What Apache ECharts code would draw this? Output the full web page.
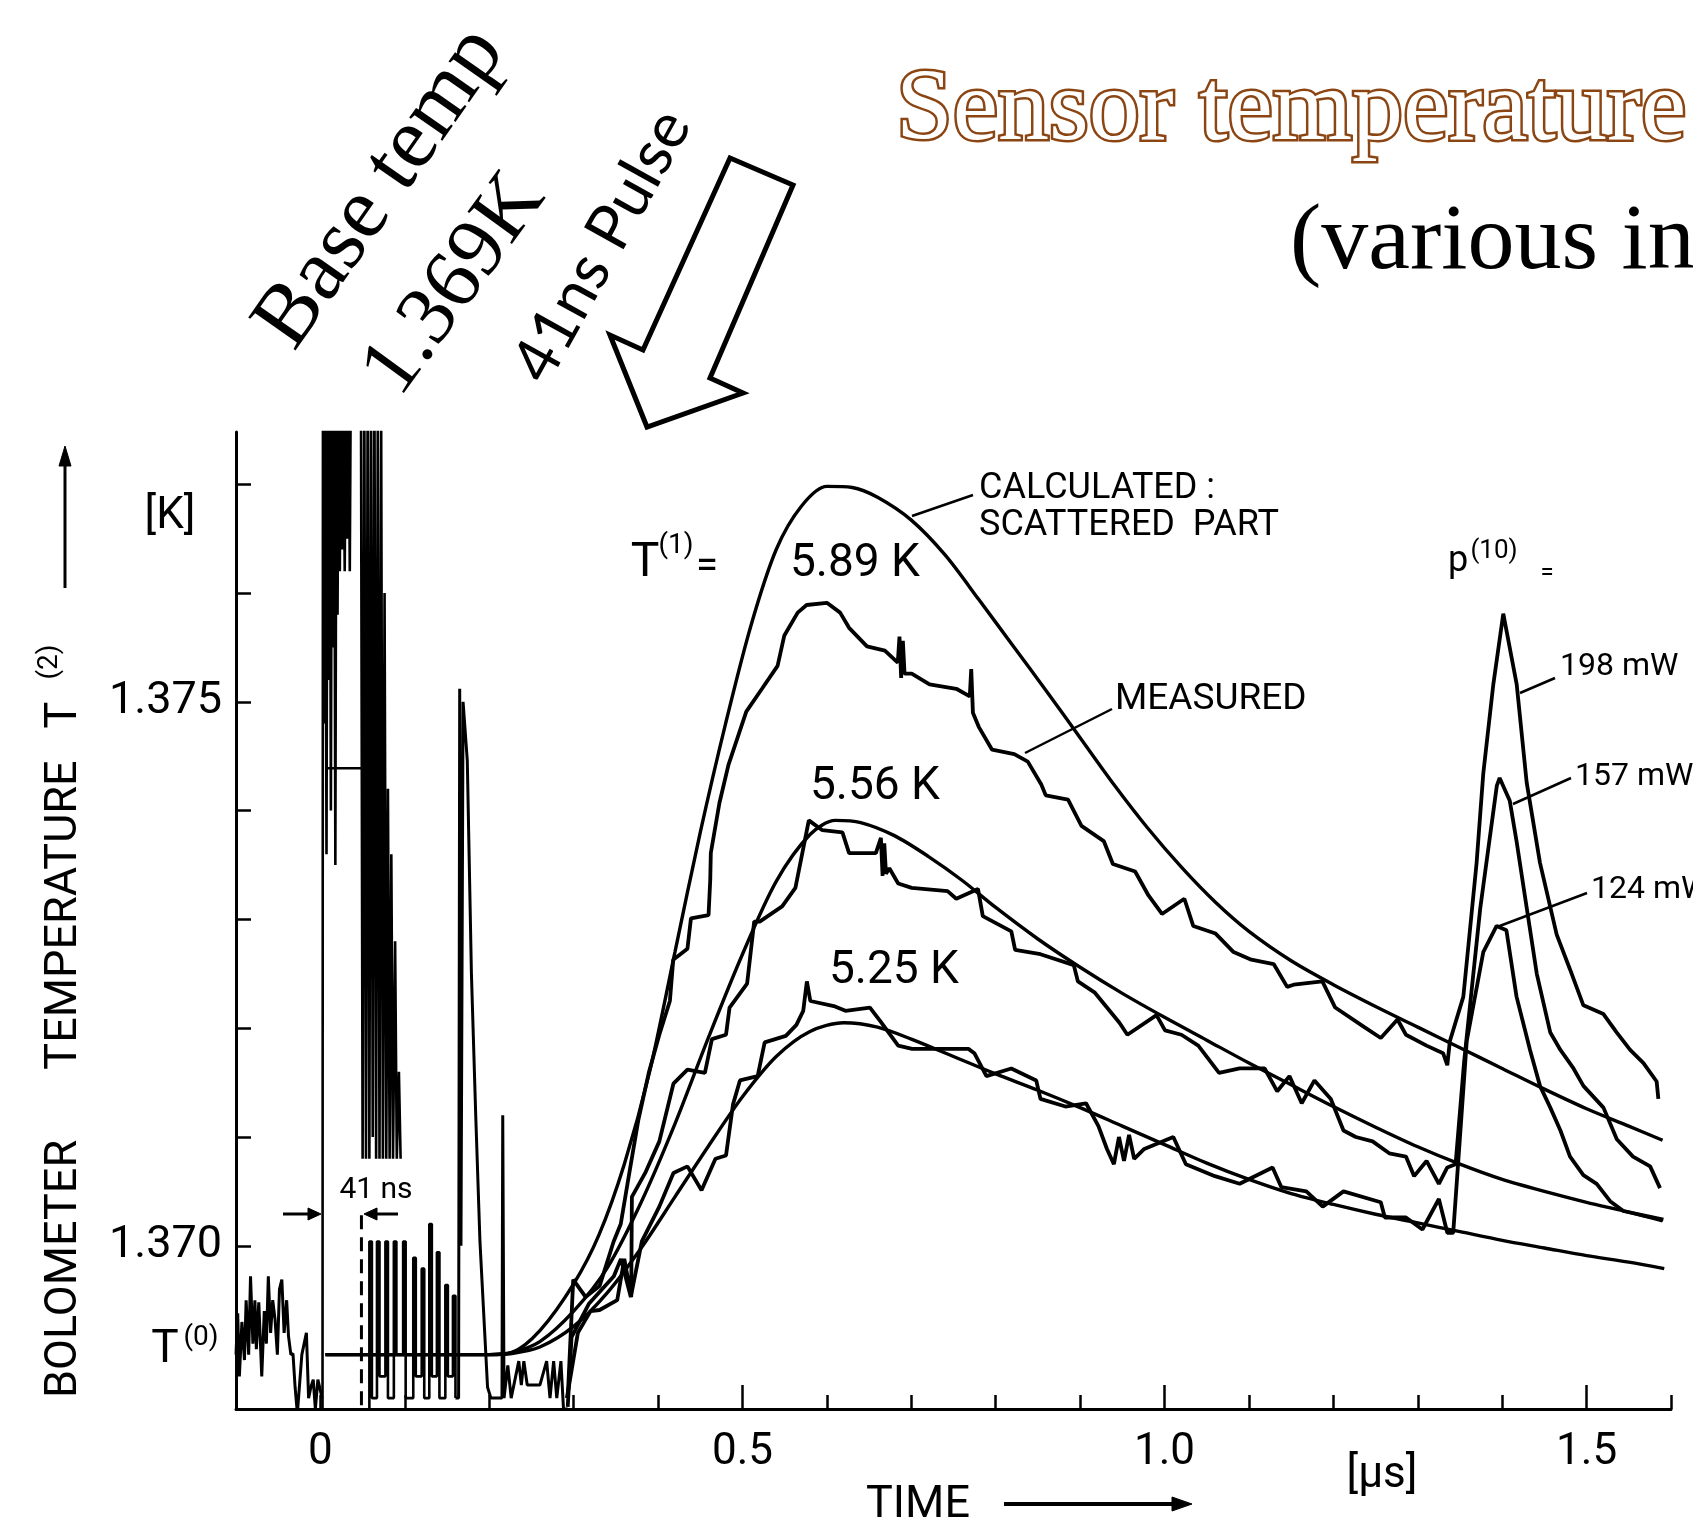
<!DOCTYPE html>
<html><head><meta charset="utf-8">
<script src="https://cdn.jsdelivr.net/npm/echarts@6/dist/echarts.min.js"></script>
<style>html,body{margin:0;padding:0;background:#fff}#c{width:1693px;height:1528px}</style>
</head><body><div id="c"></div>
<script>
// ---------- axis ticks / labels ----------
const xLabelValues = [0, 0.5, 1.0, 1.5];
const xTickLabels = ['0', '0.5', '1.0', '1.5'];
const xMajorTicks = [0.5, 1.0, 1.5];
const yLabelValues = [1.370, 1.375];
const yTickValues = [1.370, 1.371, 1.372, 1.373, 1.374, 1.375, 1.376, 1.377];

// ---------- data: time [µs], temperature [K] ----------
const preNoise = [[-0.100,1.3690],[-0.098,1.36938],[-0.096,1.3688],[-0.093,1.3693],[-0.090,1.36895],[-0.088,1.3695],[-0.085,1.3690],[-0.0828,1.36972],[-0.080,1.3691],[-0.0776,1.3695],[-0.0759,1.36905],[-0.073,1.36948],[-0.0695,1.3688],[-0.0665,1.3694],[-0.064,1.3691],[-0.0617,1.36972],[-0.059,1.3692],[-0.0565,1.3695],[-0.0537,1.36932],[-0.051,1.3690],[-0.0485,1.3696],[-0.0457,1.36969],[-0.043,1.3692],[-0.040,1.3695],[-0.0378,1.36917],[-0.035,1.3690],[-0.0325,1.36901],[-0.030,1.3687],[-0.0273,1.36846],[-0.022,1.3690],[-0.0166,1.3692],[-0.014,1.3686],[-0.0113,1.3687],[-0.0085,1.36877],[-0.006,1.3685],[-0.003,1.36877],[0.002,1.3686]];

const burstUpper = [[0.0025,1.3685],[0.0030,1.3780],[0.0045,1.3748],[0.0058,1.3780],[0.0072,1.3736],[0.0085,1.3780],[0.0098,1.3752],[0.0110,1.3780],[0.0124,1.3740],[0.0137,1.3780],[0.0150,1.3755],[0.0163,1.3780],[0.0177,1.3735],[0.0190,1.3780],[0.0203,1.3758],[0.0216,1.3780],[0.0230,1.3762],[0.0243,1.3780],[0.0258,1.3764],[0.0272,1.3776],[0.0288,1.3762],[0.0303,1.3780],[0.0318,1.3765],[0.0333,1.3780],[0.0348,1.3762],[0.0360,1.3780],[0.0480,1.3780],[0.0500,1.3708],[0.0520,1.3780],[0.0540,1.3708],[0.0560,1.3780],[0.0580,1.3708],[0.0600,1.3780],[0.0620,1.3710],[0.0640,1.3780],[0.0660,1.3708],[0.0680,1.3778],[0.0700,1.3708],[0.0720,1.3775],[0.0740,1.3708],[0.0760,1.3760],[0.0780,1.3708],[0.0800,1.3742],[0.0820,1.3708],[0.0840,1.3736],[0.0860,1.3708],[0.0885,1.3728],[0.0905,1.3708],[0.0930,1.3716],[0.0950,1.3708]];

const burstLower = [[0.058,1.3685],[0.058,1.37004],[0.061,1.37004],[0.061,1.3686],[0.067,1.3686],[0.067,1.37004],[0.070,1.37004],[0.070,1.3688],[0.077,1.3688],[0.077,1.37004],[0.080,1.37004],[0.080,1.3686],[0.087,1.3686],[0.087,1.37004],[0.090,1.37004],[0.090,1.3690],[0.098,1.3690],[0.098,1.37004],[0.101,1.37004],[0.101,1.3686],[0.110,1.3686],[0.110,1.36989],[0.113,1.36989],[0.113,1.3688],[0.120,1.3688],[0.120,1.36979],[0.123,1.36979],[0.123,1.3686],[0.129,1.3686],[0.129,1.3702],[0.132,1.3702],[0.132,1.3688],[0.138,1.3688],[0.138,1.36994],[0.141,1.36994],[0.141,1.3686],[0.148,1.3686],[0.148,1.36964],[0.151,1.36964],[0.151,1.3688],[0.157,1.3688],[0.157,1.36954],[0.160,1.36954],[0.160,1.3686]];

const spikeTail = [[0.1600,1.3686],[0.1637,1.3686],[0.1650,1.37512],[0.1665,1.3700],[0.1690,1.3750],[0.1740,1.37446],[0.1789,1.3725],[0.1840,1.3712],[0.1890,1.37004],[0.1980,1.3687],[0.2020,1.3686],[0.2151,1.3686],[0.2160,1.3712],[0.2175,1.3686],[0.222,1.3689],[0.226,1.3686],[0.235,1.36894],[0.238,1.36872],[0.241,1.36894],[0.245,1.36872],[0.260,1.36872],[0.268,1.36894],[0.272,1.3686],[0.2763,1.36894],[0.280,1.3686],[0.2849,1.36894],[0.288,1.3685],[0.293,1.3685]];

const levelMark = [[0.0056,1.37439],[0.0727,1.37439]];
const pulseEnd = [[0.0486,1.37028],[0.0486,1.3685]];

const calc589 = [[0.006,1.3690],[0.20,1.3690],[0.227,1.36902],[0.26,1.36922],[0.30,1.36965],[0.33,1.37010],[0.36,1.37075],[0.39,1.37160],[0.42,1.37270],[0.45,1.37380],[0.48,1.37480],[0.51,1.37570],[0.54,1.37640],[0.57,1.37680],[0.60,1.37698],[0.63,1.37697],[0.66,1.37688],[0.70,1.37667],[0.74,1.37635],[0.78,1.37594],[0.82,1.37552],[0.86,1.37510],[0.90,1.37467],[0.94,1.37424],[0.98,1.37384],[1.02,1.37348],[1.06,1.37316],[1.10,1.37289],[1.15,1.37262],[1.20,1.37240],[1.25,1.37220],[1.30,1.37201],[1.35,1.37182],[1.40,1.37163],[1.45,1.37144],[1.50,1.37126],[1.55,1.37110],[1.59,1.37097]];
const calc556 = [[0.006,1.3690],[0.20,1.3690],[0.227,1.36902],[0.26,1.36912],[0.30,1.36940],[0.34,1.36980],[0.38,1.37040],[0.42,1.37112],[0.46,1.37192],[0.50,1.37268],[0.54,1.37335],[0.58,1.37378],[0.61,1.37391],[0.64,1.37389],[0.68,1.37377],[0.72,1.37358],[0.76,1.37336],[0.80,1.37311],[0.85,1.37282],[0.90,1.37256],[0.95,1.37232],[1.00,1.37210],[1.05,1.37189],[1.10,1.37168],[1.15,1.37148],[1.20,1.37128],[1.25,1.37109],[1.30,1.37091],[1.35,1.37075],[1.40,1.37061],[1.45,1.37050],[1.50,1.37040],[1.55,1.37031],[1.59,1.37023]];
const calc525 = [[0.006,1.3690],[0.20,1.3690],[0.227,1.36901],[0.26,1.36907],[0.30,1.36926],[0.34,1.36957],[0.38,1.36998],[0.42,1.37045],[0.46,1.37092],[0.50,1.37137],[0.54,1.37174],[0.58,1.37197],[0.62,1.37205],[0.66,1.37201],[0.70,1.37190],[0.75,1.37174],[0.80,1.37158],[0.85,1.37143],[0.90,1.37127],[0.95,1.37110],[1.00,1.37093],[1.05,1.37076],[1.10,1.37061],[1.15,1.37048],[1.20,1.37038],[1.25,1.37029],[1.30,1.37021],[1.35,1.37013],[1.40,1.37005],[1.45,1.36998],[1.50,1.36991],[1.55,1.36985],[1.592,1.36979]];

const meas589 = [[0.293,1.3686],[0.2995,1.36969],[0.3141,1.36953],[0.3307,1.36963],[0.3474,1.37004],[0.3558,1.3702],[0.364,1.37058],[0.3765,1.37115],[0.389,1.37159],[0.4015,1.37194],[0.414,1.37225],[0.418,1.37263],[0.4348,1.37273],[0.439,1.37301],[0.4598,1.37304],[0.4618,1.37336],[0.4625,1.37361],[0.4727,1.37407],[0.4834,1.37442],[0.5045,1.37491],[0.5231,1.37512],[0.5416,1.37533],[0.5496,1.37561],[0.5654,1.37582],[0.576,1.37589],[0.600,1.37591],[0.6157,1.37582],[0.6263,1.37568],[0.6475,1.37551],[0.6687,1.37547],[0.684,1.37536],[0.686,1.37560],[0.688,1.37522],[0.690,1.37556],[0.692,1.37526],[0.7005,1.37526],[0.7216,1.37516],[0.7533,1.37512],[0.7693,1.37505],[0.771,1.37530],[0.773,1.37490],[0.7799,1.37477],[0.7957,1.37456],[0.822,1.37452],[0.838,1.37445],[0.854,1.37424],[0.8593,1.37414],[0.8857,1.3741],[0.9016,1.37386],[0.928,1.37372],[0.9388,1.37351],[0.9652,1.37344],[0.981,1.37322],[0.997,1.37305],[1.0235,1.37319],[1.034,1.37294],[1.0605,1.37287],[1.0818,1.3727],[1.1028,1.37263],[1.1293,1.37259],[1.1453,1.37238],[1.153,1.3724],[1.187,1.37243],[1.2022,1.37219],[1.2367,1.37201],[1.2562,1.37191],[1.276,1.37208],[1.286,1.37194],[1.3104,1.37184],[1.330,1.37177],[1.335,1.37166],[1.338,1.37188],[1.354,1.37229],[1.3697,1.37352],[1.3776,1.37434],[1.3895,1.37516],[1.4013,1.37581],[1.4172,1.37516],[1.429,1.37426],[1.4448,1.37352],[1.4646,1.37286],[1.4804,1.37254],[1.4962,1.37221],[1.52,1.37213],[1.5358,1.37196],[1.5516,1.3718],[1.5674,1.37168],[1.583,1.37151],[1.585,1.37135]];
const meas556 = [[0.292,1.3686],[0.305,1.3692],[0.32,1.3694],[0.3307,1.36941],[0.3516,1.3695],[0.36,1.36988],[0.3682,1.36953],[0.3690,1.37045],[0.3848,1.37067],[0.4015,1.37096],[0.4182,1.37149],[0.4348,1.37162],[0.4555,1.37159],[0.4638,1.3719],[0.4805,1.37194],[0.4847,1.37219],[0.5055,1.37241],[0.5139,1.37298],[0.5204,1.37298],[0.547,1.37312],[0.5627,1.37329],[0.5786,1.37391],[0.5946,1.37382],[0.6184,1.3738],[0.6263,1.37361],[0.658,1.37361],[0.664,1.37375],[0.666,1.37340],[0.668,1.37370],[0.670,1.37342],[0.674,1.37347],[0.6845,1.37333],[0.7005,1.37329],[0.743,1.37326],[0.7533,1.37319],[0.779,1.37328],[0.7847,1.37303],[0.8185,1.37289],[0.823,1.37272],[0.853,1.37268],[0.8925,1.37258],[0.8974,1.37243],[0.917,1.37233],[0.9466,1.37205],[0.956,1.37194],[0.9905,1.37212],[1.0006,1.37198],[1.02,1.37194],[1.04,1.37184],[1.0646,1.37159],[1.089,1.37163],[1.1186,1.37163],[1.1335,1.37142],[1.148,1.37156],[1.1625,1.37131],[1.1776,1.37152],[1.197,1.37135],[1.212,1.37106],[1.2266,1.371],[1.2465,1.37096],[1.2662,1.37085],[1.286,1.37082],[1.2957,1.37064],[1.3104,1.37078],[1.325,1.37057],[1.335,1.37072],[1.3448,1.37075],[1.355,1.3717],[1.374,1.3731],[1.3937,1.37423],[1.397,1.3743],[1.409,1.37409],[1.417,1.37372],[1.429,1.37311],[1.441,1.3725],[1.457,1.37196],[1.469,1.3718],[1.4845,1.37163],[1.4962,1.37147],[1.52,1.37127],[1.5358,1.37098],[1.555,1.37082],[1.5753,1.37073],[1.587,1.37053]];
const meas525 = [[0.293,1.36852],[0.2975,1.36916],[0.3183,1.36947],[0.3476,1.36972],[0.356,1.36988],[0.3677,1.36953],[0.3808,1.37004],[0.4015,1.37036],[0.4182,1.37067],[0.4348,1.37073],[0.4515,1.37051],[0.468,1.3708],[0.4805,1.37083],[0.4888,1.3713],[0.497,1.37152],[0.518,1.37156],[0.5263,1.37187],[0.5514,1.37193],[0.5639,1.37203],[0.572,1.37216],[0.5763,1.37243],[0.5804,1.37225],[0.6096,1.3722],[0.622,1.37216],[0.651,1.37219],[0.6637,1.37206],[0.6845,1.37184],[0.701,1.37181],[0.7343,1.37181],[0.7677,1.37181],[0.7747,1.37177],[0.789,1.37156],[0.8185,1.37163],[0.848,1.37152],[0.853,1.37135],[0.8826,1.37128],[0.907,1.37131],[0.9217,1.3711],[0.9318,1.37089],[0.940,1.37075],[0.946,1.37100],[0.952,1.37078],[0.958,1.37102],[0.964,1.37080],[0.976,1.37089],[1.0104,1.371],[1.0253,1.37075],[1.0597,1.37064],[1.089,1.37057],[1.128,1.37072],[1.1383,1.37054],[1.168,1.3705],[1.1874,1.37036],[1.212,1.3705],[1.2562,1.3704],[1.261,1.37026],[1.286,1.37026],[1.3055,1.37015],[1.325,1.37043],[1.335,1.37012],[1.342,1.37012],[1.358,1.37188],[1.3776,1.3727],[1.3934,1.37294],[1.405,1.3729],[1.417,1.37229],[1.433,1.3718],[1.4448,1.37147],[1.457,1.37127],[1.469,1.37106],[1.4804,1.37082],[1.4962,1.37065],[1.512,1.37057],[1.5279,1.37041],[1.5436,1.37032],[1.5674,1.37028],[1.591,1.37024]];

// ---------- chart ----------
const chart = echarts.init(document.getElementById('c'), null, {renderer: 'canvas'});
const INK = '#000';
const LBL = 'Roboto, "DejaVu Sans", sans-serif';
function rough(name, data, extra) {
  return Object.assign({
    name: name, type: 'line', data: data, showSymbol: false, symbol: 'none',
    lineStyle: {color: INK, width: 3.8}, silent: true, animation: false, z: 3
  }, extra || {});
}
function smoothLine(name, data) {
  return rough(name, data, {smooth: 0.3, lineStyle: {color: INK, width: 3.4}});
}

function T(text, x, y, size, opts) {
  opts = opts || {};
  return {
    type: 'text', x: x, y: y, rotation: opts.rot || 0, z: 100,
    style: {
      text: text, fill: opts.fill || INK, stroke: opts.stroke, lineWidth: opts.lw || 0,
      font: (opts.weight || 'normal') + ' ' + size + 'px ' + (opts.family || LBL),
      align: opts.align || 'left', textAlign: opts.align || 'left',
      verticalAlign: 'middle', textVerticalAlign: 'middle'
    }
  };
}
function L(x1, y1, x2, y2, w) {
  return {type: 'line', z: 100, shape: {x1: x1, y1: y1, x2: x2, y2: y2}, style: {stroke: INK, lineWidth: w || 2}};
}
function P(points, fill) {
  return {type: 'polygon', z: 100, shape: {points: points}, style: {fill: fill || INK, stroke: INK, lineWidth: 1}};
}

const SERIF = '"Liberation Serif", "Times New Roman", serif';
const graphics = [
  T('Sensor temperature', 896, 112, 102, {family: SERIF, fill: '#fff', stroke: '#8B4513', lw: 5}),
  T('(various in', 1290, 243, 94, {family: SERIF}),
  T('Base temp', 381, 188, 88, {family: SERIF, rot: 55 * Math.PI / 180, align: 'center'}),
  T('1.369K', 455, 285, 84, {family: SERIF, rot: 54 * Math.PI / 180, align: 'center'}),
  T('41ns Pulse', 602, 246, 63, {family: 'Lato, "Open Sans", sans-serif', rot: 61 * Math.PI / 180, align: 'center'}),
  {type: 'polygon', z: 100, shape: {points: [[730,158],[793,185],[710,378],[743,393],[647,427],[610,335],[643,350]]},
   style: {fill: '#fff', stroke: INK, lineWidth: 5, lineJoin: 'miter'}},
  // y axis name
  T('BOLOMETER', 65, 1269, 45, {rot: Math.PI / 2, align: 'center'}),
  T('TEMPERATURE', 65, 915, 45, {rot: Math.PI / 2, align: 'center'}),
  T('T', 65, 715, 45, {rot: Math.PI / 2, align: 'center'}),
  T('(2)', 50, 662, 28, {rot: Math.PI / 2, align: 'center'}),
  L(65, 588, 65, 458, 3),
  P([[65,446],[59,466],[71,466]]),
  T('[K]', 170, 517, 44, {align: 'center'}),
  T('T', 165, 1350, 46, {align: 'center'}),
  T('(0)', 201, 1338, 28, {align: 'center'}),
  // x axis name
  T('TIME', 918, 1506, 45, {align: 'center'}),
  L(1004, 1504, 1176, 1504, 4),
  P([[1192,1504],[1172,1497],[1172,1511]]),
  T('[µs]', 1382, 1476, 44, {align: 'center'}),
  // 41 ns marker
  T('41 ns', 376, 1190, 30, {align: 'center'}),
  L(283, 1214, 312, 1214, 3),
  P([[321,1214],[308,1208],[308,1220]]),
  L(398, 1214, 373, 1214, 3),
  P([[364,1214],[377,1208],[377,1220]]),
  // curve annotations
  T('T', 645, 564, 48, {align: 'center'}),
  T('(1)', 676, 546, 28, {align: 'center'}),
  T('=', 707, 568, 40, {align: 'center'}),
  T('5.89 K', 855, 564, 46, {align: 'center'}),
  T('5.56 K', 875, 787, 46, {align: 'center'}),
  T('5.25 K', 894, 971, 46, {align: 'center'}),
  T('CALCULATED :', 979, 489, 36),
  T('SCATTERED  PART', 979, 526, 36),
  L(973, 495, 912, 516, 2.5),
  T('MEASURED', 1115, 700, 37),
  L(1112, 709, 1025, 753, 2.5),
  T('p', 1458, 562, 36, {align: 'center'}),
  T('(10)', 1494, 551, 26, {align: 'center'}),
  T('=', 1547, 574, 24, {align: 'center'}),
  T('198 mW', 1560, 667, 32),
  L(1555, 678, 1520, 693, 2.5),
  T('157 mW', 1575, 777, 32),
  L(1571, 778, 1513, 804, 2.5),
  T('124 mW', 1591, 890, 32),
  L(1587, 893, 1497, 927, 2.5)
];

chart.setOption({
  backgroundColor: '#fff',
  animation: false,
  grid: {left: 236, right: 22, top: 432, bottom: 119, containLabel: false},
  xAxis: [{
    type: 'value', min: -0.1, max: 1.6, interval: 0.1,
    axisLine: {show: true, onZero: false, lineStyle: {color: INK, width: 3}},
    axisTick: {show: true, inside: true, length: 14, lineStyle: {color: INK, width: 2.5}},
    splitLine: {show: false},
    axisLabel: {
      show: true, customValues: xLabelValues, margin: 22, color: INK, fontSize: 44, fontFamily: LBL,
      formatter: function (v) { const i = xLabelValues.findIndex(function (u) { return Math.abs(u - v) < 1e-6; }); return i >= 0 ? xTickLabels[i] : ''; }
    }
  }, {
    type: 'value', min: -0.1, max: 1.6, position: 'bottom',
    axisLine: {show: false}, splitLine: {show: false}, axisLabel: {show: false},
    axisTick: {show: true, inside: true, length: 24, customValues: xMajorTicks, lineStyle: {color: INK, width: 2.5}}
  }],
  yAxis: {
    type: 'value', min: 1.3685, max: 1.37748,
    axisLine: {show: true, onZero: false, lineStyle: {color: INK, width: 3}},
    axisTick: {show: true, inside: true, length: 15, customValues: yTickValues, lineStyle: {color: INK, width: 2.5}},
    splitLine: {show: false},
    axisLabel: {
      show: true, customValues: yLabelValues, margin: 14, color: INK, fontSize: 45, fontFamily: LBL,
      formatter: function (v) { return v.toFixed(3); }
    }
  },
  graphic: {elements: graphics},
  series: [
    rough('pre-trigger noise', preNoise, {lineStyle: {color: INK, width: 3}}),
    rough('pulse pickup (upper)', burstUpper, {lineStyle: {color: INK, width: 2.6}}),
    rough('pulse pickup (lower)', burstLower, {lineStyle: {color: INK, width: 2.6}}),
    rough('pickup spike', spikeTail, {lineStyle: {color: INK, width: 3}}),
    rough('level mark', levelMark, {lineStyle: {color: INK, width: 2.5}}),
    rough('41 ns end', pulseEnd, {lineStyle: {color: INK, width: 3, type: [14, 8]}}),
    smoothLine('calculated 5.89 K', calc589),
    smoothLine('calculated 5.56 K', calc556),
    smoothLine('calculated 5.25 K', calc525),
    rough('measured 5.89 K / 198 mW', meas589),
    rough('measured 5.56 K / 157 mW', meas556),
    rough('measured 5.25 K / 124 mW', meas525)
  ]
});
</script>
</body></html>
